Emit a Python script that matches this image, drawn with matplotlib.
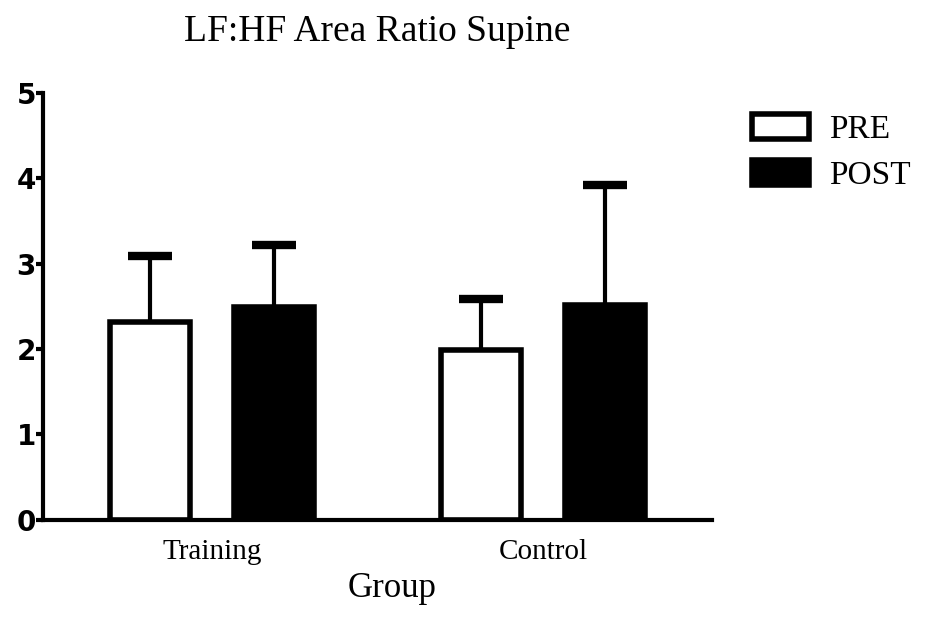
import matplotlib
matplotlib.use("Agg")
import matplotlib.pyplot as plt
from matplotlib.patches import Patch
import numpy as np

groups = ["Training", "Control"]
pre_mean = [2.32, 1.99]
pre_err = [0.77, 0.59]
post_mean = [2.49, 2.51]
post_err = [0.73, 1.41]

fig = plt.figure(figsize=(9.31, 6.27), dpi=100)
ax = fig.add_axes([0.046, 0.171, 0.719, 0.681])

x = np.arange(len(groups))
w = 0.24
off = 0.187

series = [(x - off, pre_mean, pre_err, "white"),
          (x + off, post_mean, post_err, "black")]
for xs, mean, err, fc in series:
    mean = np.asarray(mean)
    err = np.asarray(err)
    ax.bar(xs, mean, w, color=fc, edgecolor="black", linewidth=4, zorder=2)
    # upper error bar only, cap drawn at the top end
    ax.errorbar(xs, mean, yerr=[np.zeros_like(err), err], fmt="none",
                ecolor="black", elinewidth=3, capsize=0, zorder=3)
    ax.plot(xs, mean + err, ls="none", marker="_", ms=32, mew=6,
            color="black", zorder=3)

ax.set_xlim(-0.51, 1.51)
ax.set_ylim(0, 5)
ax.set_yticks([0, 1, 2, 3, 4, 5])
ax.set_xticks(x)
ax.set_xticklabels(groups, family="Liberation Serif", fontsize=21)
for lab in ax.get_yticklabels():
    lab.set_family("DejaVu Sans")
    lab.set_fontweight("bold")
    lab.set_fontsize(20)

for s in ["top", "right"]:
    ax.spines[s].set_visible(False)
for s in ["left", "bottom"]:
    ax.spines[s].set_linewidth(3)
ax.tick_params(axis="y", length=5, width=3, pad=0)
ax.tick_params(axis="x", length=0, pad=14)

fig.text(377 / 931, 1 - 41 / 627, "LF:HF Area Ratio Supine",
         family="Liberation Serif", fontsize=27, ha="center", va="baseline")
fig.text(392 / 931, 1 - 597 / 627, "Group",
         family="Liberation Serif", fontsize=25, ha="center", va="baseline")

handles = [Patch(facecolor="white", edgecolor="black", linewidth=4),
           Patch(facecolor="black", edgecolor="black", linewidth=4)]
fig.legend(handles, ["PRE", "POST"], loc="upper left",
           bbox_to_anchor=(752 / 931, 1 - 114 / 627), frameon=False,
           prop={"family": "Liberation Serif", "size": 24},
           handlelength=1.7, handleheight=0.76, handletextpad=0.6,
           labelspacing=0.45, borderpad=0, borderaxespad=0)

fig.savefig("out.png", dpi=100)
